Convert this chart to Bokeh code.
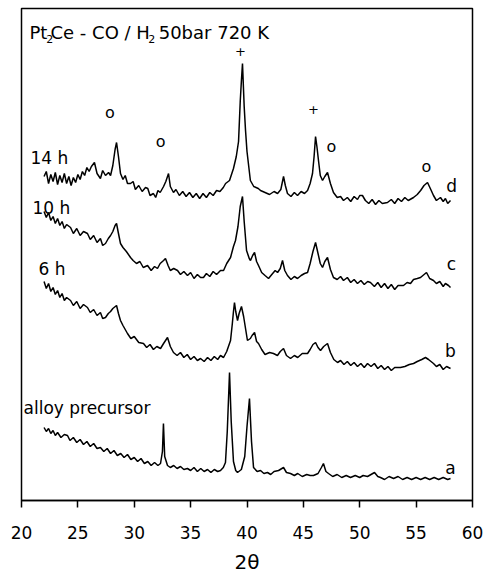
from bokeh.plotting import figure
from bokeh.models import Range1d, FixedTicker, ColumnDataSource
from bokeh.embed import file_html
from bokeh.resources import INLINE
from bokeh.core.properties import value

# ---- data: 2-theta (deg) and intensity (arbitrary units, offset traces) ----
d_x = [22.0, 22.2, 22.4, 22.6, 22.8, 23.0, 23.2, 23.4, 23.6, 23.8, 24.0, 24.2, 24.4, 24.6, 24.8,
       25.0, 25.2, 25.4, 25.6, 25.8, 26.0, 26.2, 26.47, 26.7, 27.0, 27.2, 27.45, 27.72, 27.9, 28.1,
       28.3, 28.43, 28.6, 28.78, 29.0, 29.2, 29.4, 29.67, 29.9, 30.1, 30.4, 30.7, 31.0, 31.2, 31.4,
       31.7, 31.9, 32.1, 32.3, 32.6, 32.8, 33.04, 33.2, 33.48, 33.7, 34.0, 34.3, 34.6, 34.9, 35.2,
       35.5, 35.8, 36.1, 36.4, 36.7, 37.0, 37.3, 37.6, 37.9, 38.1, 38.45, 38.8, 39.05, 39.25, 39.4,
       39.5, 39.6, 39.75, 39.87, 40.0, 40.3, 40.6, 41.0, 41.2, 41.6, 42.0, 42.4, 42.71, 43.0, 43.24,
       43.4, 43.59, 43.9, 44.2, 44.48, 44.8, 45.1, 45.37, 45.6, 45.81, 45.95, 46.08, 46.2, 46.34, 46.5,
       46.7, 46.9, 47.14, 47.4, 47.67, 48.0, 48.3, 48.56, 48.9, 49.2, 49.5, 49.8, 50.0, 50.24, 50.5,
       50.8, 51.1, 51.4, 51.7, 52.0, 52.46, 52.8, 53.1, 53.4, 53.7, 54.0, 54.3, 54.77, 55.1, 55.4,
       55.7, 56.01, 56.3, 56.54, 56.8, 57.16, 57.4, 57.6, 57.8, 58.05]
d_y = [325, 330, 318, 327, 320, 329, 317, 326, 319, 328, 318, 325, 316, 324, 319,
       327, 322, 330, 326, 334, 330, 335, 339, 328, 323, 331, 326, 329, 326, 336,
       352, 359, 345, 328, 322, 326, 318, 318, 320, 312, 316, 310, 314, 313, 306,
       308, 304, 311, 309, 315, 320, 328, 315, 309, 312, 306, 310, 305, 309, 304,
       308, 303, 308, 304, 309, 306, 311, 310, 314, 318, 321, 333, 345, 360, 400,
       420, 438, 395, 371, 350, 321, 315, 313, 311, 309, 307, 310, 308, 312, 325,
       316, 308, 305, 309, 306, 310, 308, 311, 318, 328, 345, 365, 355, 341, 326,
       321, 325, 329, 318, 309, 304, 305, 301, 304, 300, 305, 302, 306, 306, 301,
       298, 302, 297, 301, 298, 299, 302, 298, 303, 300, 304, 301, 304, 307, 311,
       316, 319, 312, 306, 301, 304, 300, 303, 298, 301]

c_x = [22.0, 22.2, 22.4, 22.6, 22.8, 23.0, 23.2, 23.4, 23.6, 23.8, 24.0, 24.35, 24.6, 24.9, 25.2,
       25.5, 25.85, 26.1, 26.4, 26.7, 27.0, 27.2, 27.45, 27.7, 27.9, 28.1, 28.3, 28.43, 28.6, 28.78,
       29.0, 29.3, 29.67, 29.9, 30.2, 30.5, 30.8, 31.18, 31.5, 31.8, 32.06, 32.3, 32.6, 32.77, 33.0,
       33.2, 33.5, 33.84, 34.1, 34.4, 34.72, 35.0, 35.3, 35.6, 35.88, 36.14, 36.4, 36.7, 37.0, 37.3,
       37.65, 37.92, 38.2, 38.54, 38.8, 38.98, 39.2, 39.4, 39.6, 39.75, 39.96, 40.2, 40.31, 40.5, 40.67,
       40.85, 41.02, 41.3, 41.6, 41.91, 42.2, 42.5, 42.71, 42.95, 43.15, 43.35, 43.59, 43.9, 44.2, 44.48,
       44.8, 45.1, 45.37, 45.6, 45.85, 46.08, 46.3, 46.5, 46.7, 46.9, 47.14, 47.4, 47.67, 48.0, 48.3,
       48.56, 48.9, 49.2, 49.5, 49.8, 50.1, 50.4, 50.7, 50.95, 51.3, 51.6, 51.9, 52.2, 52.5, 52.8,
       53.1, 53.4, 53.88, 54.2, 54.5, 54.77, 55.1, 55.39, 55.6, 55.92, 56.2, 56.54, 56.8, 57.1, 57.4,
       57.6, 57.87, 58.05]
c_y = [290, 284, 289, 281, 285, 278, 283, 276, 280, 273, 277, 274, 268, 273, 266,
       270, 268, 262, 266, 259, 263, 256, 258, 263, 266, 270, 276, 278, 268, 258,
       254, 250, 244, 241, 238, 240, 234, 236, 231, 235, 233, 238, 241, 243, 236,
       231, 233, 231, 227, 230, 226, 229, 223, 227, 224, 224, 228, 225, 230, 227,
       231, 231, 238, 244, 255, 261, 275, 295, 305, 280, 251, 243, 241, 246, 249,
       240, 236, 229, 226, 223, 227, 231, 229, 233, 241, 231, 226, 222, 225, 223,
       226, 228, 229, 238, 250, 259, 248, 238, 234, 240, 244, 232, 224, 222, 225,
       221, 224, 219, 222, 218, 221, 217, 220, 219, 215, 219, 214, 218, 213, 217,
       212, 216, 216, 219, 218, 222, 223, 224, 226, 229, 223, 221, 218, 220, 215,
       218, 216, 214]

b_x = [22.0, 22.2, 22.4, 22.6, 22.8, 23.0, 23.2, 23.4, 23.6, 23.8, 24.0, 24.35, 24.6, 24.9, 25.2,
       25.5, 25.85, 26.1, 26.4, 26.7, 27.0, 27.2, 27.45, 27.7, 27.9, 28.1, 28.43, 28.6, 28.78, 29.0,
       29.4, 29.7, 30.0, 30.4, 30.82, 31.1, 31.4, 31.7, 32.0, 32.33, 32.6, 32.95, 33.2, 33.48, 33.8,
       34.1, 34.4, 34.7, 35.0, 35.3, 35.6, 35.88, 36.2, 36.5, 36.8, 37.1, 37.4, 37.65, 37.92, 38.2,
       38.54, 38.7, 38.8, 38.89, 39.0, 39.16, 39.3, 39.51, 39.7, 40.04, 40.3, 40.45, 40.67, 40.85, 41.02,
       41.3, 41.6, 42.0, 42.35, 42.7, 42.95, 43.24, 43.5, 43.86, 44.2, 44.5, 44.9, 45.37, 45.6, 45.85,
       46.08, 46.3, 46.52, 46.8, 47.14, 47.4, 47.7, 48.03, 48.3, 48.6, 48.9, 49.2, 49.5, 49.8, 50.1,
       50.4, 50.69, 51.0, 51.3, 51.6, 51.9, 52.2, 52.5, 52.8, 53.1, 53.61, 54.0, 54.4, 54.77, 55.1,
       55.5, 55.83, 56.1, 56.54, 56.8, 57.1, 57.4, 57.7, 58.05]
b_y = [220, 213, 218, 210, 214, 207, 211, 204, 208, 201, 204, 201, 196, 200, 193,
       197, 194, 189, 192, 186, 189, 183, 184, 188, 190, 193, 196, 188, 181, 176,
       168, 163, 165, 159, 158, 154, 157, 152, 155, 153, 158, 164, 155, 149, 146,
       149, 144, 147, 142, 145, 141, 143, 140, 144, 141, 145, 142, 146, 144, 150,
       161, 178, 190, 199, 190, 181, 188, 195, 185, 161, 163, 166, 169, 160, 158,
       152, 147, 149, 148, 146, 150, 153, 146, 143, 146, 144, 148, 148, 152, 157,
       159, 154, 151, 155, 158, 149, 142, 139, 141, 137, 140, 136, 139, 135, 138,
       134, 138, 135, 138, 133, 136, 132, 135, 131, 134, 134, 135, 137, 138, 140,
       142, 144, 142, 138, 135, 137, 132, 135, 133]

a_x = [22.0, 22.2, 22.4, 22.6, 22.8, 23.0, 23.2, 23.5, 23.8, 24.08, 24.3, 24.6, 24.9, 25.2, 25.5,
       25.8, 26.1, 26.4, 26.7, 27.0, 27.3, 27.6, 27.9, 28.2, 28.5, 28.8, 29.1, 29.4, 29.7, 30.0,
       30.3, 30.6, 30.9, 31.2, 31.5, 31.8, 32.1, 32.33, 32.5, 32.59, 32.7, 32.95, 33.2, 33.5, 33.8,
       34.1, 34.4, 34.72, 35.0, 35.3, 35.6, 35.9, 36.2, 36.5, 36.8, 37.1, 37.4, 37.65, 37.9, 38.09,
       38.25, 38.45, 38.6, 38.8, 39.0, 39.16, 39.5, 39.8, 40.0, 40.22, 40.4, 40.58, 40.9, 41.2, 41.5,
       41.82, 42.1, 42.4, 42.8, 43.24, 43.5, 43.86, 44.2, 44.5, 44.9, 45.3, 45.6, 45.9, 46.3, 46.6,
       46.78, 47.0, 47.23, 47.6, 48.0, 48.4, 48.8, 49.18, 49.6, 50.0, 50.3, 50.69, 51.0, 51.31, 51.6,
       51.84, 52.2, 52.6, 53.0, 53.4, 53.8, 54.2, 54.6, 55.0, 55.4, 55.8, 56.2, 56.6, 57.0, 57.4,
       57.8, 58.05]
a_y = [74, 70, 73, 68, 71, 66, 69, 64, 67, 66, 61, 64, 59, 62, 57,
       60, 55, 58, 53, 54, 50, 53, 48, 51, 46, 48, 44, 47, 42, 44,
       40, 43, 38, 40, 36, 39, 36, 38, 50, 78, 45, 36, 34, 36, 33,
       35, 32, 33, 31, 34, 30, 33, 30, 32, 29, 32, 30, 31, 34, 39,
       70, 129, 80, 40, 31, 29, 32, 45, 75, 103, 60, 34, 30, 31, 28,
       29, 27, 30, 31, 34, 29, 28, 26, 28, 25, 27, 26, 26, 28, 34,
       38, 30, 28, 25, 27, 24, 26, 24, 26, 24, 26, 25, 27, 29, 25,
       24, 22, 25, 23, 25, 22, 24, 22, 24, 22, 24, 22, 24, 22, 24,
       22, 23]

x_ticks = [20, 25, 30, 35, 40, 45, 50, 55, 60]

FONT = "DejaVu Sans"

p = figure(width=483, height=576, output_backend="svg", toolbar_location=None,
           x_range=Range1d(20, 60), y_range=Range1d(1, 493),
           min_border_left=21, min_border_right=11, min_border_top=8, min_border_bottom=76)
p.background_fill_color = "white"
p.border_fill_color = "white"
p.outline_line_color = "black"
p.outline_line_width = 1.5
p.grid.visible = False
p.yaxis.visible = False

ax = p.xaxis[0]
ax.ticker = FixedTicker(ticks=x_ticks)
ax.minor_tick_line_color = None
ax.major_tick_in = 0
ax.major_tick_out = 7
ax.major_tick_line_width = 1.5
ax.axis_line_width = 1.5
ax.major_label_standoff = 18
ax.major_label_text_font = FONT
ax.major_label_text_font_size = "17px"
ax.major_label_text_color = "black"
ax.axis_label = "2θ"
ax.axis_label_text_font = FONT
ax.axis_label_text_font_size = "20px"
ax.axis_label_text_font_style = "normal"
ax.axis_label_standoff = 8
ax.axis_label_text_color = "black"

for xs, ys in [(d_x, d_y), (c_x, c_y), (b_x, b_y), (a_x, a_y)]:
    p.line(xs, ys, line_color="black", line_width=1.5)

def txt(xs, ys, texts, size, align="left"):
    src = ColumnDataSource(dict(x=xs, y=ys, t=texts))
    p.text(x="x", y="y", text="t", source=src, text_font=value(FONT),
           text_font_size=value(size), text_align=align, text_baseline="alphabetic",
           text_color="black")

# peak markers
txt([27.85, 32.33, 47.49, 55.92], [388.6, 359.6, 354.6, 334.6], ["o", "o", "o", "o"], "16px", "center")
txt([39.42, 45.9], [450, 392], ["+", "+"], "13px", "center")
# trace letters
txt([58.14, 58.14, 58.05, 58.05], [316, 238, 151, 34], ["d", "c", "b", "a"], "17px", "center")
# trace names
txt([20.8, 20.98, 21.51, 20.18], [344, 294, 233, 94], ["14 h", "10 h", "6 h", "alloy precursor"], "17px")
# title with subscripts
txt([20.71, 22.57, 32.17], [468.7, 468.7, 468.7], ["Pt", "Ce - CO / H", "50bar 720 K"], "18px")
txt([22.2, 31.25], [462.7, 462.7], ["2", "2"], "11px")

open("out.html", "w").write(file_html(p, INLINE))
